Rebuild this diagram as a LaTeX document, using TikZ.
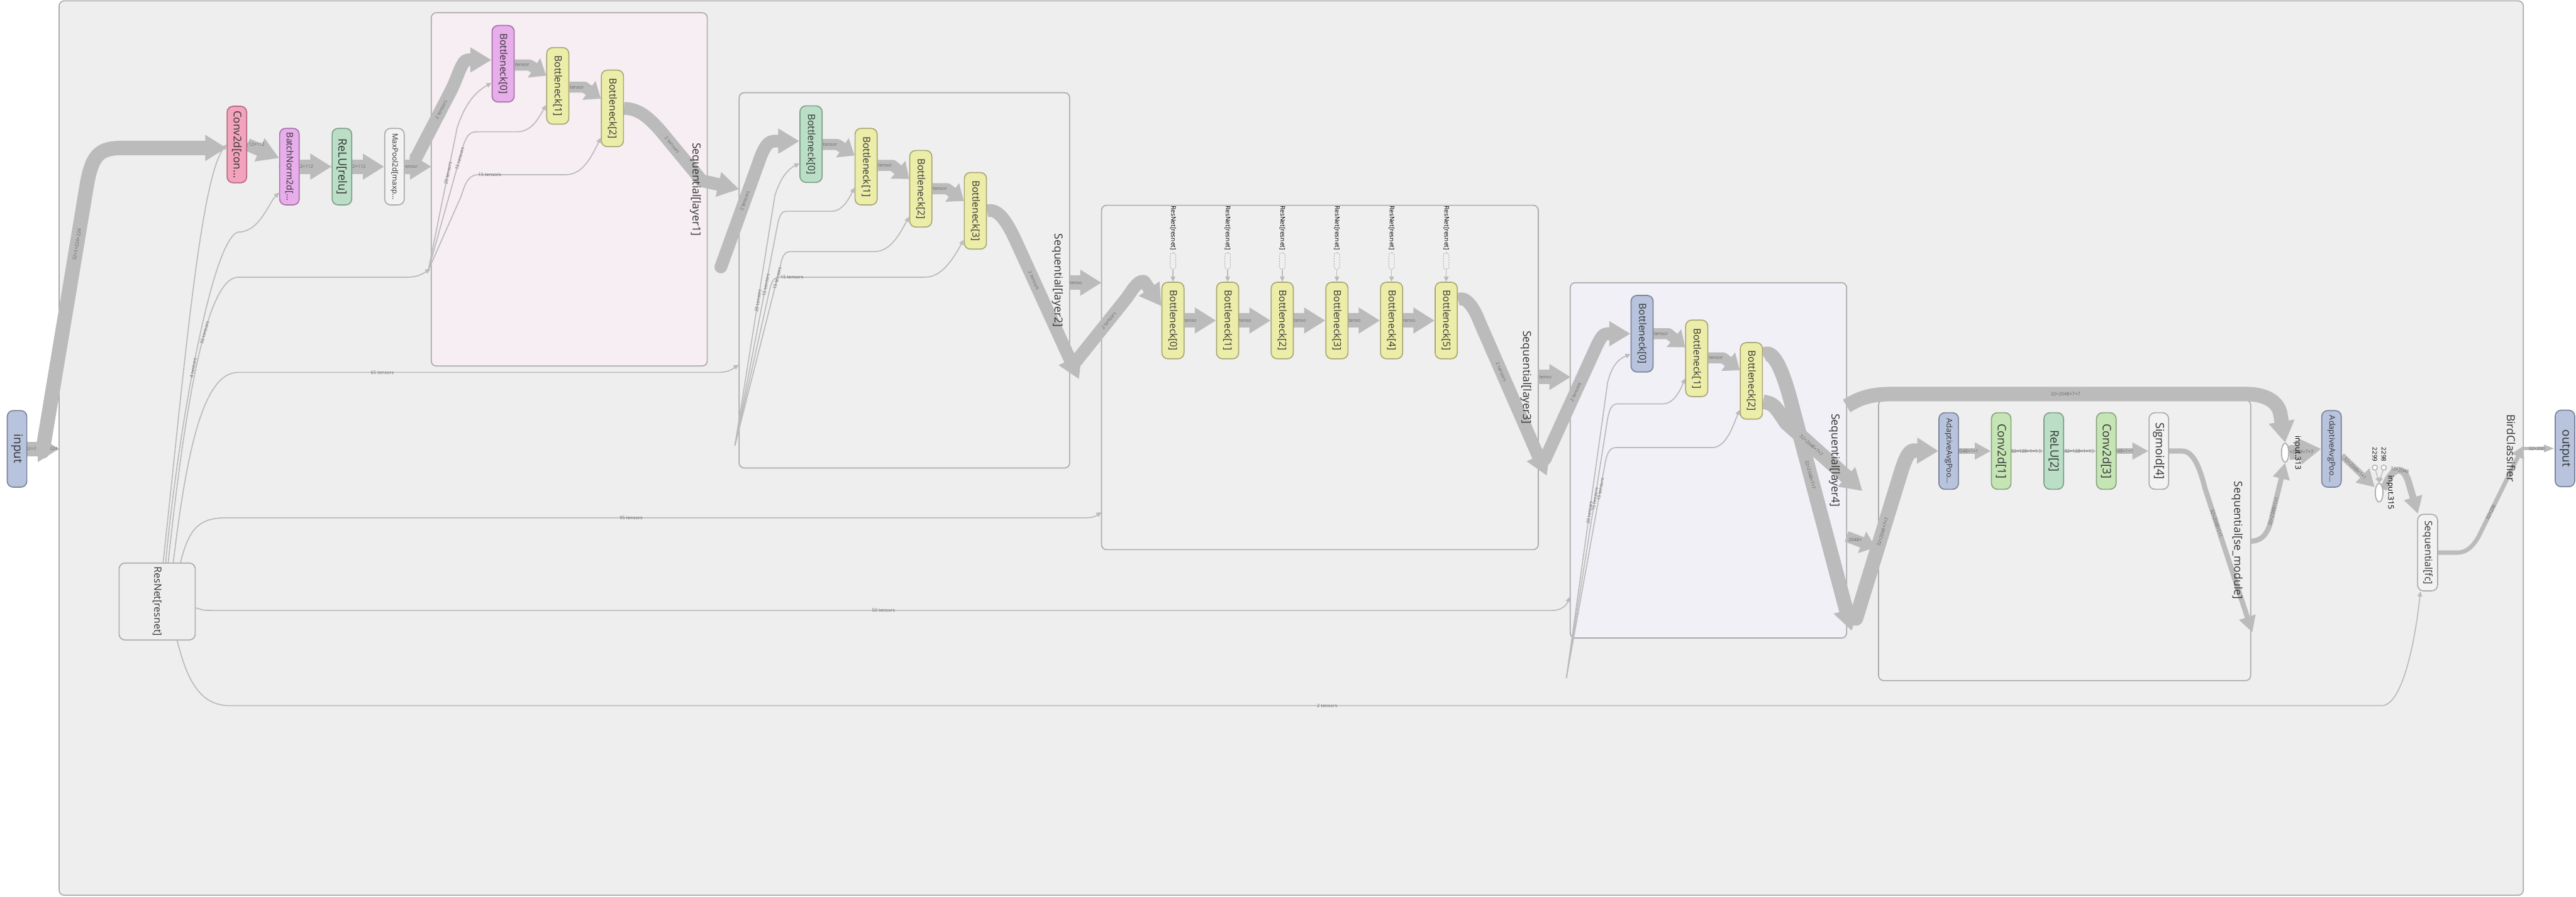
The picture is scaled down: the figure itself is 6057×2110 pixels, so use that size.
\documentclass[tikz,border=0pt]{standalone}
\usepackage{fontspec}
\setmainfont{Open Sans}
\usepackage{graphicx}
\usetikzlibrary{shapes.geometric,arrows.meta,positioning}

\definecolor{canvasgrey}{HTML}{EEEEEE}
\definecolor{framegrey}{HTML}{ABABAB}
\definecolor{flowgrey}{HTML}{BBBBBB}
\definecolor{inkgrey}{HTML}{333333}
\definecolor{labgrey}{HTML}{6A6A6A}
\definecolor{bluefill}{HTML}{B8C4DD}
\definecolor{blueline}{HTML}{7B8499}
\definecolor{pinkfill}{HTML}{F4A3BC}
\definecolor{pinkline}{HTML}{B36A82}
\definecolor{purpfill}{HTML}{E8ADEB}
\definecolor{purpline}{HTML}{A673A8}
\definecolor{mintfill}{HTML}{BADEC6}
\definecolor{mintline}{HTML}{7FA08A}
\definecolor{limefill}{HTML}{C5E5B5}
\definecolor{limeline}{HTML}{8AA47E}
\definecolor{yelfill}{HTML}{EDEDAA}
\definecolor{yelline}{HTML}{A9A874}
\definecolor{whitefill}{HTML}{F2F2F2}
\definecolor{layerpink}{HTML}{F6EEF2}
\definecolor{layergrey}{HTML}{EFEFEF}
\definecolor{layerlav}{HTML}{F1F0F6}

\newcommand{\vlab}[1]{\rotatebox{-90}{#1}}
\newcommand{\fs}[1]{\fontsize{#1}{#1}\selectfont}

\pgfdeclarelayer{bg}
\pgfdeclarelayer{edges}
\pgfsetlayers{bg,edges,main}

\tikzset{
    op/.style = {
        rectangle, draw, line width=2.5pt, rounded corners=14pt,
        minimum width=46pt, minimum height=180pt, inner sep=0pt,
        text=inkgrey, font=\fs{27}
    },
    bneck/.style   = {op, minimum width=52pt, font=\fs{23}},
    blueop/.style  = {fill=bluefill, draw=blueline},
    pinkop/.style  = {fill=pinkfill, draw=pinkline},
    purpop/.style  = {fill=purpfill, draw=purpline},
    mintop/.style  = {fill=mintfill, draw=mintline},
    limeop/.style  = {fill=limefill, draw=limeline},
    yelop/.style   = {fill=yelfill, draw=yelline},
    whiteop/.style = {fill=whitefill, draw=framegrey},
    cluster/.style = {
        rectangle, draw=framegrey, line width=2.5pt,
        rounded corners=12pt, inner sep=0pt
    },
    clustertitle/.style = {inner sep=0pt, text=inkgrey, font=\fs{26}},
    ghost/.style = {
        rectangle, draw=framegrey, dashed, line width=1.5pt, rounded corners=5pt,
        minimum width=13pt, minimum height=38pt, inner sep=0pt
    },
    ghosttag/.style = {inner sep=0pt, text=black, font=\fs{15}},
    blob/.style = {
        ellipse, draw=framegrey, fill=white, line width=2.5pt,
        minimum width=17pt, minimum height=45pt, inner sep=0pt
    },
    knob/.style = {circle, draw=framegrey, fill=white, line width=2pt, minimum size=12pt, inner sep=0pt},
    tag/.style  = {inner sep=0pt, text=black, font=\fs{18}},
    elab/.style = {inner sep=1pt, text=labgrey, font=\fs{11}},
    wire/.style     = {draw=flowgrey, line width=2.5pt, -{Triangle[length=12pt,width=11pt]}},
    bigband/.style  = {draw=flowgrey, line width=34pt, line join=round, -{Triangle[length=50pt,width=58pt]}},
    band/.style     = {draw=flowgrey, line width=30pt, line join=round, -{Triangle[length=50pt,width=56pt]}},
    linkband/.style = {draw=flowgrey, line width=26pt, line join=round, -{Triangle[length=34pt,width=52pt]}},
    slimband/.style = {draw=flowgrey, line width=12pt, line join=round, -{Triangle[length=38pt,width=38pt]}},
    hairband/.style = {draw=flowgrey, line width=3pt, -{Triangle[length=10pt,width=10pt]}}
}

\begin{document}
\begin{tikzpicture}[x=1pt, y=-1pt, node distance=75pt]
  \useasboundingbox (0,0) rectangle (6057,2110);

  \begin{pgfonlayer}{bg}
    \fill [white] (0,0) rectangle (6057,2110);
    \node [cluster, fill=canvasgrey, minimum width=5794pt, minimum height=2104pt] (bird) at (3036,1054) {};
    \node [cluster, fill=layerpink, minimum width=649pt, minimum height=831pt] (layer1) at (1338.5,445.5) {};
    \node [cluster, fill=layergrey, minimum width=777pt, minimum height=883pt] (layer2) at (2126.5,659.5) {};
    \node [cluster, fill=layergrey, minimum width=1027pt, minimum height=810pt] (layer3) at (3103.5,888) {};
    \node [cluster, fill=layerlav, minimum width=650pt, minimum height=836pt] (layer4) at (4017,1083) {};
    \node [cluster, fill=layergrey, minimum width=875pt, minimum height=660pt] (semod) at (4854.5,1271) {};
  \end{pgfonlayer}

  \node [clustertitle] (birdtitle) at ([xshift=-30pt]bird.east) {\vlab{BirdClassifier}};
  \node [clustertitle] (layer1title) at ([xshift=-29pt]layer1.east) {\vlab{Sequential[layer1]}};
  \node [clustertitle] (layer2title) at ([xshift=-30pt]layer2.east) {\vlab{Sequential[layer2]}};
  \node [clustertitle] (layer3title) at ([xshift=-30pt]layer3.east) {\vlab{Sequential[layer3]}};
  \node [clustertitle] (layer4title) at ([xshift=-30pt]layer4.east) {\vlab{Sequential[layer4]}};
  \node [clustertitle] (semodtitle) at ([xshift=-33pt]semod.east) {\vlab{Sequential[se\_module]}};

  \node [op, blueop, font=\fs{28}] (input) at (40,1056) {\vlab{input}};
  \node [op, blueop, font=\fs{28}] (output) at (6031,1055) {\vlab{output}};

  \node [op, pinkop, font=\fs{25}] (stemconv) at (557,340) {\vlab{Conv2d[con…}};
  \node [op, purpop, font=\fs{21}, right=of stemconv, yshift=-52pt] (stembn) {\vlab{BatchNorm2d[…}};
  \node [op, mintop, right=of stembn] (stemrelu) {\vlab{ReLU[relu]}};
  \node [op, whiteop, font=\fs{17.5}, right=of stemrelu] (stempool) {\vlab{MaxPool2d[maxp…}};
  \node [op, fill=canvasgrey, draw=framegrey, minimum width=179pt, minimum height=181pt, font=\fs{23.5}]
        (resnet) at (369.5,1415) {\vlab{ResNet[resnet]}};

  \node [bneck, purpop] (l1b0) at (1183,150) {\vlab{Bottleneck[0]}};
  \node [bneck, yelop, right=74pt of l1b0, yshift=-52pt] (l1b1) {\vlab{Bottleneck[1]}};
  \node [bneck, yelop, right=74pt of l1b1, yshift=-53pt] (l1b2) {\vlab{Bottleneck[2]}};

  \node [bneck, mintop] (l2b0) at (1907,339) {\vlab{Bottleneck[0]}};
  \node [bneck, yelop, right=75pt of l2b0, yshift=-53pt] (l2b1) {\vlab{Bottleneck[1]}};
  \node [bneck, yelop, right=74pt of l2b1, yshift=-52pt] (l2b2) {\vlab{Bottleneck[2]}};
  \node [bneck, yelop, right=74pt of l2b2, yshift=-52pt] (l2b3) {\vlab{Bottleneck[3]}};

  \node [bneck, yelop] (l3b0) at (2758,754) {\vlab{Bottleneck[0]}};
  \node [bneck, yelop, right=74pt of l3b0] (l3b1) {\vlab{Bottleneck[1]}};
  \node [bneck, yelop, right=74pt of l3b1] (l3b2) {\vlab{Bottleneck[2]}};
  \node [bneck, yelop, right=74pt of l3b2] (l3b3) {\vlab{Bottleneck[3]}};
  \node [bneck, yelop, right=74pt of l3b3] (l3b4) {\vlab{Bottleneck[4]}};
  \node [bneck, yelop, right=74pt of l3b4] (l3b5) {\vlab{Bottleneck[5]}};
  \node [ghost, above=29pt of l3b0] (g0) {};
  \node [ghost, above=29pt of l3b1] (g1) {};
  \node [ghost, above=29pt of l3b2] (g2) {};
  \node [ghost, above=29pt of l3b3] (g3) {};
  \node [ghost, above=29pt of l3b4] (g4) {};
  \node [ghost, above=29pt of l3b5] (g5) {};
  \node [ghosttag, above=6pt of g0] (gt0) {\vlab{ResNet[resnet]}};
  \node [ghosttag, above=6pt of g1] (gt1) {\vlab{ResNet[resnet]}};
  \node [ghosttag, above=6pt of g2] (gt2) {\vlab{ResNet[resnet]}};
  \node [ghosttag, above=6pt of g3] (gt3) {\vlab{ResNet[resnet]}};
  \node [ghosttag, above=6pt of g4] (gt4) {\vlab{ResNet[resnet]}};
  \node [ghosttag, above=6pt of g5] (gt5) {\vlab{ResNet[resnet]}};

  \node [bneck, blueop] (l4b0) at (3861,785) {\vlab{Bottleneck[0]}};
  \node [bneck, yelop, right=74pt of l4b0, yshift=-58pt] (l4b1) {\vlab{Bottleneck[1]}};
  \node [bneck, yelop, right=74pt of l4b1, yshift=-53pt] (l4b2) {\vlab{Bottleneck[2]}};

  \node [op, blueop, font=\fs{18.3}] (seadp) at (4582,1061) {\vlab{AdaptiveAvgPoo…}};
  \node [op, limeop, right=of seadp] (seconv1) {\vlab{Conv2d[1]}};
  \node [op, mintop, right=of seconv1] (serelu) {\vlab{ReLU[2]}};
  \node [op, limeop, right=of serelu] (seconv3) {\vlab{Conv2d[3]}};
  \node [op, whiteop, right=of seconv3] (sesig) {\vlab{Sigmoid[4]}};

  \node [blob] (i313) at (5373,1065) {};
  \node [tag, right=10pt of i313] (i313tag) {\vlab{input.313}};
  \node [op, blueop, font=\fs{18.8}, right=75pt of i313, yshift=9pt] (adp2) {\vlab{AdaptiveAvgPoo…}};
  \node [blob, minimum width=18pt, minimum height=44pt] (i315) at (5594,1159) {};
  \node [tag, right=7pt of i315] (i315tag) {\vlab{input.315}};
  \node [knob] (c2299) at (5584,1100) {};
  \node [knob] (c2298) at (5605,1100) {};
  \node [tag, font=\fs{14.5}, above=7pt of c2299] (c2299tag) {\vlab{2299}};
  \node [tag, font=\fs{14.5}, above=7pt of c2298] (c2298tag) {\vlab{2298}};
  \node [op, whiteop, minimum width=47pt, font=\fs{23.6}] (fc) at (5708,1300) {\vlab{Sequential[fc]}};

  \coordinate (bcin) at (139,1056);
  \coordinate (stemstart) at (100,1062);
  \coordinate (l1in) at (1014,392);
  \coordinate (l1start) at (978,372);
  \coordinate (l2in) at (1738,445);
  \coordinate (l2start) at (1695,628);
  \coordinate (l2out) at (2537,892);
  \coordinate (l2exit) at (2515,665);
  \coordinate (l3in) at (2590,665);
  \coordinate (l3start) at (2530,850);
  \coordinate (l3out) at (3637,1119);
  \coordinate (l3exit) at (3617,887);
  \coordinate (l4in) at (3693,887);
  \coordinate (l4start) at (3633,1080);
  \coordinate (l4outA) at (4354,1484);
  \coordinate (l4outB) at (4379,1155);
  \coordinate (l4side) at (4342,1262);
  \coordinate (sein) at (4410,1288);
  \coordinate (l4top) at (4342,955);
  \coordinate (sestart) at (4364,1455);
  \coordinate (seout) at (5296,1488);
  \coordinate (seexit) at (5292,1273);
  \coordinate (bcout) at (5933,1049);
  \coordinate (bcexit) at (5934,1055);
  \coordinate (l1thin) at (1012,633);
  \coordinate (l1fan) at (1007,636);
  \coordinate (l2thin) at (1737,858);
  \coordinate (l2fan) at (1728,1048);
  \coordinate (l3thin) at (2590,1205);
  \coordinate (l4thin) at (3691,1404);
  \coordinate (l4fan) at (3683,1595);

  \begin{pgfonlayer}{edges}
  \path [wire] ([xshift=14pt]resnet.north) .. controls (430,900) and (470,420) .. (stemconv.west);
  \path [wire] ([xshift=20pt]resnet.north) .. controls (420,1000) and (500,560) .. (560,546)
        node [elab, sloped, pos=0.45] {4 tensors}
        .. controls (610,546) and (630,480) .. ([yshift=-61pt]stembn.west);
  \path [wire] ([xshift=26pt]resnet.north) .. controls (430,1000) and (480,652) .. (560,652)
        node [elab, sloped, pos=0.62] {50 tensors}
        -- (960,652) .. controls (985,652) and (1000,640) .. (l1thin);
  \path [wire] ([xshift=38pt]resnet.north) .. controls (440,1050) and (480,876) .. (560,876)
        -- (1690,876) node [elab, pos=0.3] {65 tensors}
        .. controls (1715,876) and (1725,866) .. (l2thin);
  \path [wire] ([xshift=55pt]resnet.north) .. controls (445,1240) and (470,1218) .. (534,1218)
        -- (2555,1218) node [elab, pos=0.47] {95 tensors}
        .. controls (2575,1218) and (2582,1210) .. (l3thin);
  \path [wire] ([yshift=-15pt]resnet.east) .. controls (480,1436) .. (505,1436)
        -- (3650,1436) node [elab, pos=0.5] {50 tensors}
        .. controls (3675,1436) and (3685,1420) .. (l4thin);
  \path [wire] ([xshift=47pt]resnet.south) .. controls (440,1600) and (470,1660) .. (540,1660)
        -- (5600,1660) node [elab, pos=0.51] {2 tensors}
        .. controls (5650,1660) and (5680,1500) .. ([xshift=-17pt]fc.south);

  \path [wire] (l1fan) -- (1075,300) node [elab, sloped, pos=0.68] {20 tensors}
        .. controls (1095,240) and (1120,215) .. ([yshift=-45pt]l1b0.west);
  \path [wire] (l1fan) -- (1090,340) node [elab, sloped, pos=0.89] {15 tensors}
        .. controls (1100,315) and (1105,310) .. (1125,310)
        -- (1215,310) .. controls (1250,310) and (1265,280) .. ([yshift=-45pt]l1b1.west);
  \path [wire] (l1fan) -- (1085,460) .. controls (1095,425) and (1105,411) .. (1125,411)
        -- (1330,411) node [elab, pos=0.13] {15 tensors}
        .. controls (1370,411) and (1390,370) .. ([yshift=-69pt]l1b2.west);

  \path [wire] (l2fan) -- (1822,460) node [elab, sloped, pos=0.58] {20 tensors}
        .. controls (1835,420) and (1850,400) .. ([yshift=-45pt]l2b0.west);
  \path [wire] (l2fan) -- (1828,530) node [elab, sloped, pos=0.73] {15 tensors}
        .. controls (1833,505) and (1838,497) .. (1850,497)
        -- (1955,497) .. controls (1980,497) and (1995,470) .. ([yshift=-49pt]l2b1.west);
  \path [wire] (l2fan) -- (1835,625) node [elab, sloped, pos=0.93] {15 tensors}
        .. controls (1840,600) and (1845,592) .. (1860,592)
        -- (2055,592) .. controls (2095,592) and (2115,550) .. ([yshift=-66pt]l2b2.west);
  \path [wire] (l2fan) -- (1810,680) .. controls (1815,660) and (1820,652) .. (1835,652)
        -- (2175,652) node [elab, pos=0.08] {15 tensors}
        .. controls (2215,652) and (2240,610) .. ([yshift=-68pt]l2b3.west);

  \path [wire] (l4fan) -- (3780,900) node [elab, sloped, pos=0.56] {20 tensors}
        .. controls (3790,860) and (3805,845) .. ([yshift=-48pt]l4b0.west);
  \path [wire] (l4fan) -- (3780,985) node [elab, sloped, pos=0.69] {15 tensors}
        .. controls (3785,960) and (3790,950) .. (3805,950)
        -- (3910,950) .. controls (3935,950) and (3950,920) .. ([yshift=-47pt]l4b1.west);
  \path [wire] (l4fan) -- (3775,1085) node [elab, sloped, pos=0.87] {15 tensors}
        .. controls (3780,1062) and (3787,1053) .. (3800,1053)
        -- (4025,1053) .. controls (4060,1053) and (4075,1000) .. ([yshift=-68pt]l4b2.west);

  \path [wire, line width=2pt] (g0) -- (l3b0);
  \path [wire, line width=2pt] (g1) -- (l3b1);
  \path [wire, line width=2pt] (g2) -- (l3b2);
  \path [wire, line width=2pt] (g3) -- (l3b3);
  \path [wire, line width=2pt] (g4) -- (l3b4);
  \path [wire, line width=2pt] (g5) -- (l3b5);
  \path [wire, line width=2pt] (c2299) -- (i315.north);
  \path [wire, line width=2pt] (c2298) -- (i315.north);

  \path [bigband] (input.east) -- (bcin) node [elab, pos=0.45] {32×3×224×224};
  \path [bigband, line cap=round] (stemstart) -- (205,430) node [elab, sloped, pos=0.77] {32×3×224×224}
        .. controls (218,362) and (235,348) .. (290,348) -- ([yshift=-8pt]stemconv.west);
  \path [band] (stemconv.east) -- ([yshift=20pt]stembn.west) node [elab, pos=0] {32×64×112×112};
  \path [bigband] (stembn) -- (stemrelu) node [elab, pos=0, xshift=-9pt] {32×64×112×112};
  \path [bigband] (stemrelu) -- (stempool) node [elab, pos=0, xshift=-9pt] {32×64×112×112};
  \path [bigband] (stempool.east) -- (l1in) node [elab, pos=0.22] {tensor};
  \path [band, line cap=round] (l1start) -- (1058,218) node [elab, sloped, pos=0.74] {2 tensors}
        .. controls (1078,180) and (1085,141) .. (1100,141) -- ([yshift=9pt]l1b0.west);
  \path [linkband] ([yshift=-3pt]l1b0.east) -- ++(35,0) node [elab, midway] {tensor}
        -- ([yshift=24pt]l1b1.west);
  \path [linkband] ([yshift=-3pt]l1b1.east) -- ++(35,0) node [elab, midway] {tensor}
        -- ([yshift=23pt]l1b2.west);
  \path [band] (l1b2.east) .. controls (1500,255) and (1525,275) .. (1555,310)
        -- (1650,425) node [elab, sloped, pos=0.27] {2 tensors} -- (l2in);

  \path [band, line cap=round] (l2start) -- (1790,365) node [elab, sloped, pos=0.59] {2 tensors}
        .. controls (1803,335) and (1810,332) .. (1825,332) -- ([yshift=7pt]l2b0.west);
  \path [linkband] ([yshift=-1pt]l2b0.east) -- ++(35,0) node [elab, midway] {tensor}
        -- ([yshift=26pt]l2b1.west);
  \path [linkband] ([yshift=3pt]l2b1.east) -- ++(35,0) node [elab, midway] {tensor}
        -- ([yshift=23pt]l2b2.west);
  \path [linkband] (l2b2.east) -- ++(35,0) node [elab, midway] {tensor}
        -- ([yshift=23pt]l2b3.west);
  \path [band] (l2b3.east) .. controls (2345,490) and (2365,515) .. (2390,570)
        -- (l2out) node [elab, sloped, pos=0.28] {2 tensors};
  \path [bigband] (l2exit) -- (l3in) node [elab, pos=0.2] {tenso};

  \path [band, line cap=round] (l3start) -- (2650,700) node [elab, sloped, pos=0.64] {2 tensors}
        .. controls (2670,670) and (2678,660) .. (2690,662) -- ([yshift=34pt]l3b0.west);
  \path [bigband] (l3b0) -- (l3b1) node [elab, pos=0.19] {tenso};
  \path [bigband] (l3b1) -- (l3b2) node [elab, pos=0.19] {tenso};
  \path [bigband] (l3b2) -- (l3b3) node [elab, pos=0.19] {tenso};
  \path [bigband] (l3b3) -- (l3b4) node [elab, pos=0.19] {tenso};
  \path [bigband] (l3b4) -- (l3b5) node [elab, pos=0.19] {tenso};
  \path [band] ([yshift=49pt]l3b5.east) .. controls (3445,695) and (3465,720) .. (3480,760)
        -- (l3out) node [elab, sloped, pos=0.32] {2 tensors};
  \path [bigband] (l3exit) -- (l4in) node [elab, pos=0.22] {tenso};

  \path [band, line cap=round] (l4start) -- (3755,812) node [elab, sloped, pos=0.59] {2 tensors}
        .. controls (3765,792) and (3770,785) .. (3780,785) -- (l4b0.west);
  \path [linkband] (l4b0.east) -- ++(35,0) node [elab, midway] {tensor}
        -- ([yshift=26pt]l4b1.west);
  \path [linkband] ([yshift=1pt]l4b1.east) -- ++(35,0) node [elab, midway] {tensor}
        -- ([yshift=25pt]l4b2.west);
  \path [bigband] ([yshift=60pt]l4b2.east) .. controls (4170,815) and (4195,880) .. (4215,960)
        -- (l4outA) node [elab, sloped, pos=0.3] {32×2048×7×7};
  \path [bigband] ([yshift=-49pt]l4b2.east) .. controls (4170,950) .. (4200,995)
        -- (l4outB) node [elab, sloped, pos=0.33] {32×2048×7×7};
  \path [linkband] (l4side) -- (sein) node [elab, pos=0.3] {2048×};
  \path [bigband] (l4top) .. controls (4375,935) and (4400,927) .. (4450,927)
        -- (5280,927) node [elab, pos=0.49] {32×2048×7×7}
        .. controls (5335,927) and (5358,950) .. (5362,975) -- (i313.north);

  \path [bigband, line cap=round] (sestart) -- (4470,1110) node [elab, sloped, pos=0.59] {32×2048×7×7}
        .. controls (4482,1072) and (4490,1060) .. (4500,1060) -- (seadp.west);
  \path [slimband] (seadp) -- (seconv1) node [elab, pos=0.15] {32×2048×1×1};
  \path [hairband] (seconv1) -- (serelu) node [elab, pos=0.4] {32×128×1×1};
  \path [hairband] (serelu) -- (seconv3) node [elab, pos=0.43] {32×128×1×1};
  \path [slimband] (seconv3) -- (sesig) node [elab, pos=0.07] {32×2048×1×1};
  \path [slimband] (sesig.east) -- (5130,1061) .. controls (5158,1061) and (5172,1100) .. (5185,1150)
        -- (seout) node [elab, sloped, pos=0.24] {32×2048×1×1};
  \path [slimband] (seexit) .. controls (5322,1273) and (5335,1250) .. (5342,1215)
        -- (i313.south) node [elab, sloped, pos=0.1] {32×2048×1×1};

  \path [bigband] (i313.east) -- (adp2.west) node [elab, pos=0.3] {32×2048×7×7};
  \path [slimband, line width=15pt, -{Triangle[length=40pt,width=44pt]}] ([yshift=-16pt]adp2.east)
        -- ([yshift=13pt]i315.west) node [elab, sloped, pos=0.4] {32×2048×1×1};
  \path [slimband, line width=16pt, -{Triangle[length=40pt,width=42pt]}] ([yshift=8pt]i315.east)
        .. controls (5625,1095) and (5650,1095) .. (5662,1130) node [elab, sloped, pos=0.6] {32×2048}
        -- ([xshift=2pt]fc.north west);
  \path [slimband, line width=10pt, -{Triangle[length=28pt,width=30pt]}] (fc.east) -- (5778,1300)
        .. controls (5800,1300) and (5815,1285) .. (5828,1262)
        -- (bcout) node [elab, sloped, pos=0.27] {32×200};
  \path [slimband, line width=8pt, -{Triangle[length=25pt,width=16pt]}] (bcexit) -- (output.west)
        node [elab, pos=0.42] {32×200};
  \end{pgfonlayer}
\end{tikzpicture}
\end{document}
